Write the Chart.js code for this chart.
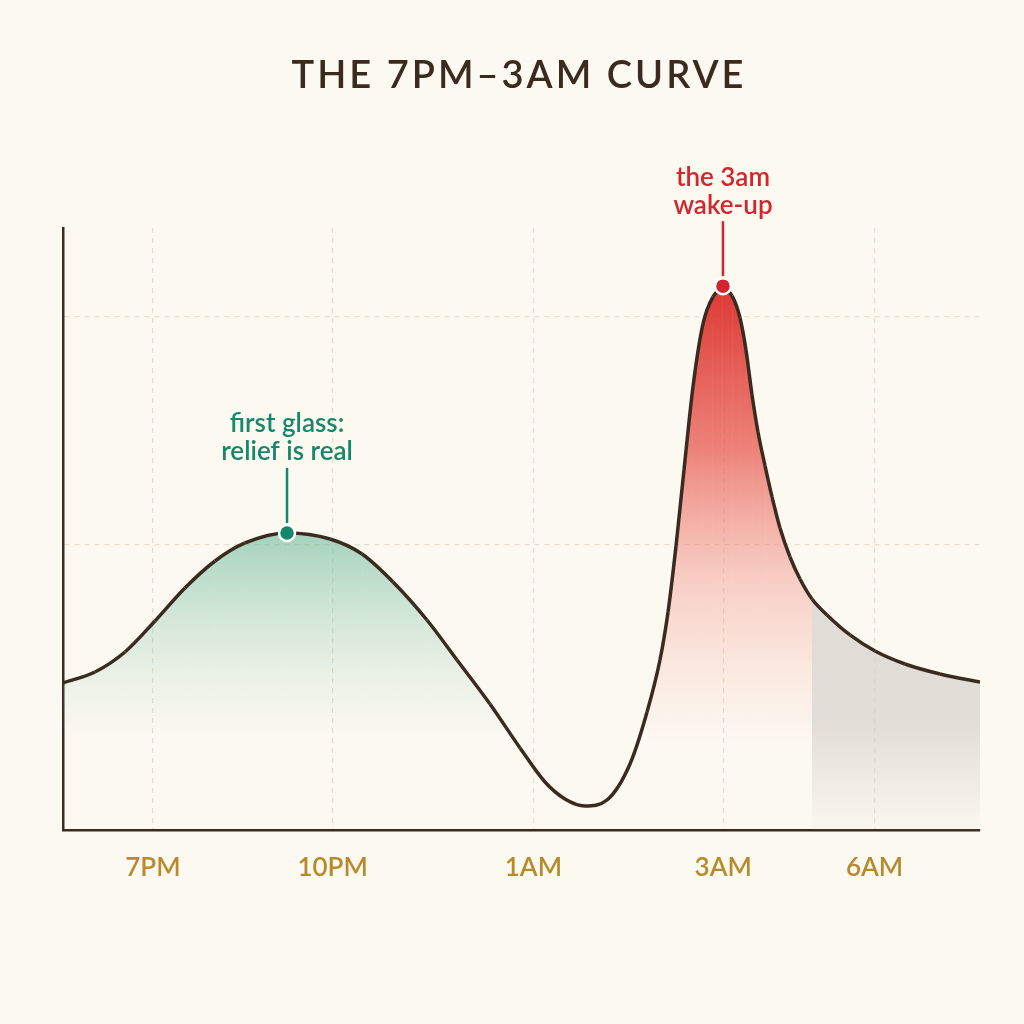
<!DOCTYPE html>
<html>
<head>
<meta charset="utf-8">
<title>The 7PM–3AM Curve</title>
<script src="https://cdn.jsdelivr.net/npm/chart.js@4.4.1/dist/chart.umd.min.js"></script>
<style>
  html, body { margin: 0; padding: 0; background: #fcf9f1; }
  canvas { display: block; }
</style>
</head>
<body>
<canvas id="curveChart" width="1024" height="1024"></canvas>
<script>
// position along the night (0-100) and felt level (0-105)
const curveX = [0, 3.49, 6.76, 10.03, 13.30, 16.58, 19.85, 24.43, 29.12, 32.61, 35.99, 39.69, 42.97,
  46.56, 49.84, 52.56, 54.74, 56.92, 59.32, 61.83, 63.69, 65.10, 65.98, 66.85, 67.72, 68.70, 69.79,
  70.88, 71.97, 72.96, 73.83, 74.48, 75.14, 75.79, 76.56, 77.32, 78.19, 79.28, 80.37, 81.68, 83.32,
  85.82, 88.55, 91.82, 95.64, 100];
const curveY = [25.79, 27.72, 31.23, 36.67, 42.46, 47.19, 50.35, 52.11, 51.05, 48.42, 43.51, 36.84, 29.82,
  22.11, 14.39, 8.42, 5.44, 4.21, 5.26, 11.58, 20.70, 29.82, 38.25, 49.82, 63.16, 77.72, 88.77,
  93.51, 94.91, 93.68, 89.82, 84.21, 76.32, 69.82, 63.86, 58.42, 52.98, 47.89, 44.04, 40.53, 37.72,
  34.21, 31.40, 29.12, 27.37, 25.96];

const tickPos = [9.8, 29.4, 51.3, 72.0, 88.5];
const tickLabels = ['7PM', '10PM', '1AM', '3AM', '6AM'];
const gridY = [50, 90];

// shaded stretches of the curve
const greenZone = [0, 49.84];
const redZone = [63.69, 81.68];
const grayZone = [81.68, 100];

// callouts
const noteX = [24.43, 71.97];
const noteY = [52.11, 95.4];
const noteText = [['first glass:', 'relief is real'], ['the 3am', 'wake-up']];
const noteColor = ['#17876c', '#d3252d'];

const titleText = 'THE 7PM–3AM CURVE';

const INK = '#3b2a1f';
const PAPER = '#fcf9f1';

function vGrad(chart, vTop, vBottom, stops) {
  const ys = chart.scales.y;
  const g = chart.ctx.createLinearGradient(0, ys.getPixelForValue(vTop), 0, ys.getPixelForValue(vBottom));
  stops.forEach(s => g.addColorStop(s[0], s[1]));
  return g;
}

function inZone(c, zone) {
  return c.p0.parsed.x >= zone[0] - 0.001 && c.p1.parsed.x <= zone[1] + 0.001;
}

const paperPlugin = {
  id: 'paper',
  beforeDraw(chart) {
    const ctx = chart.ctx;
    ctx.save();
    ctx.fillStyle = PAPER;
    ctx.fillRect(0, 0, chart.width, chart.height);
    ctx.fillStyle = INK;
    ctx.font = '600 38px Lato';
    ctx.letterSpacing = '3px';
    ctx.textAlign = 'center';
    ctx.textBaseline = 'middle';
    ctx.fillText(titleText, 519, 76);
    ctx.restore();
  }
};

const notePlugin = {
  id: 'notes',
  afterDatasetsDraw(chart) {
    const ctx = chart.ctx;
    const xs = chart.scales.x, ys = chart.scales.y;
    noteX.forEach((v, i) => {
      const px = xs.getPixelForValue(v);
      const py = ys.getPixelForValue(noteY[i]);
      const stemTop = py - 65;
      ctx.save();
      ctx.strokeStyle = noteColor[i];
      ctx.lineWidth = 2.5;
      ctx.beginPath();
      ctx.moveTo(px, py - 10);
      ctx.lineTo(px, stemTop);
      ctx.stroke();
      ctx.fillStyle = noteColor[i];
      ctx.font = '600 26px Lato';
      ctx.textAlign = 'center';
      ctx.textBaseline = 'middle';
      const lines = noteText[i];
      lines.forEach((t, k) => {
        ctx.fillText(t, px, stemTop - 16 - (lines.length - 1 - k) * 28);
      });
      ctx.restore();
    });
  }
};

new Chart(document.getElementById('curveChart'), {
  type: 'line',
  data: {
    datasets: [{
      label: 'curve',
      data: curveX.map((x, i) => ({ x: x, y: curveY[i] })),
      borderColor: INK,
      borderWidth: 3.5,
      backgroundColor: 'rgba(0,0,0,0)',
      fill: 'origin',
      pointRadius: 0,
      cubicInterpolationMode: 'monotone',
      order: 2,
      segment: {
        backgroundColor: c => {
          if (inZone(c, greenZone)) {
            return vGrad(c.chart, 53, 16, [[0, 'rgba(100,182,150,0.6)'], [0.5, 'rgba(130,195,165,0.28)'], [1, 'rgba(160,205,180,0)']]);
          }
          if (inZone(c, redZone)) {
            return vGrad(c.chart, 95, 15, [[0, 'rgba(220,50,45,0.97)'], [0.35, 'rgba(232,95,85,0.78)'], [0.65, 'rgba(240,140,128,0.38)'], [1, 'rgba(245,170,160,0)']]);
          }
          if (inZone(c, grayZone)) {
            return vGrad(c.chart, 42, 0, [[0, 'rgba(214,210,204,0.75)'], [0.55, 'rgba(214,210,204,0.7)'], [1, 'rgba(214,210,204,0.05)']]);
          }
          return 'rgba(0,0,0,0)';
        }
      }
    }, {
      type: 'scatter',
      label: 'notes',
      data: noteX.map((x, i) => ({ x: x, y: noteY[i] })),
      pointRadius: 8,
      pointBackgroundColor: noteColor,
      pointBorderColor: '#ffffff',
      pointBorderWidth: 2.5,
      order: 1
    }]
  },
  options: {
    responsive: false,
    animation: false,
    layout: { padding: { top: 228, left: 63, right: 44, bottom: 0 } },
    plugins: {
      legend: { display: false },
      tooltip: { enabled: false }
    },
    scales: {
      x: {
        type: 'linear',
        min: 0,
        max: 100,
        afterBuildTicks: s => { s.ticks = tickPos.map(v => ({ value: v })); },
        afterFit: s => { s.height = 194; },
        ticks: {
          padding: 22,
          color: '#b98a2b',
          font: { family: 'Lato', size: 26, weight: '600' },
          callback: (v, i) => tickLabels[i]
        },
        grid: { color: '#e8ddc9', lineWidth: 1.2, drawTicks: false },
        border: { color: INK, width: 2.5, dash: [5, 5] }
      },
      y: {
        min: 0,
        max: 105.6,
        afterBuildTicks: s => { s.ticks = gridY.map(v => ({ value: v })); },
        afterFit: s => { s.width = 0; },
        ticks: { display: false },
        grid: { color: '#e8ddc9', lineWidth: 1.2, drawTicks: false },
        border: { color: INK, width: 2.5, dash: [5, 5] }
      }
    }
  },
  plugins: [paperPlugin, notePlugin]
});
</script>
</body>
</html>
